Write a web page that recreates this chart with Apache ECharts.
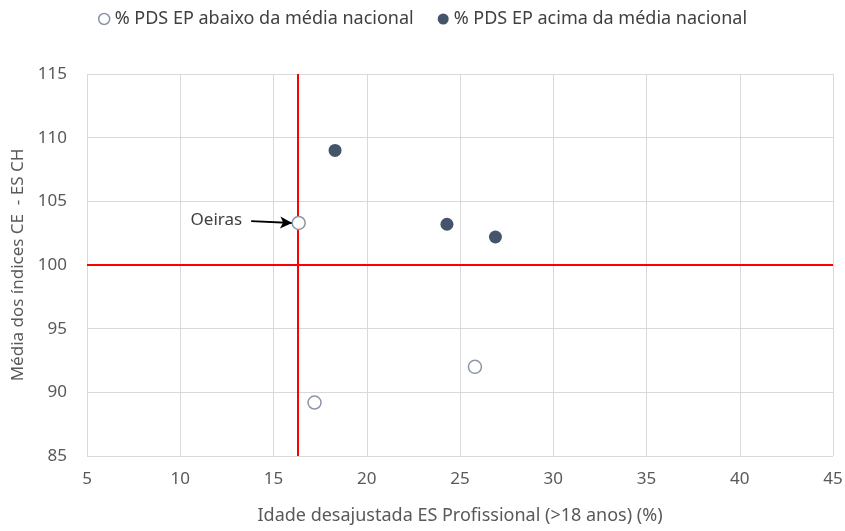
<!DOCTYPE html>
<html lang="pt">
<head>
  <meta charset="UTF-8">
  <title>Média dos índices CE - ES CH</title>
  <script src="https://cdn.jsdelivr.net/npm/echarts@6/dist/echarts.min.js"></script>
  <style>
    html, body { margin: 0; padding: 0; background: #fff; }
  </style>
</head>
<body>
<div id="main" style="width: 845px;height:531px;"></div>
<script>
  // dados
  var abaixoX = [16.35, 17.2, 25.8];
  var abaixoY = [103.3, 89.2, 92.0];
  var acimaX = [18.3, 24.3, 26.9];
  var acimaY = [109.0, 103.2, 102.2];
  var mediaX = 16.3;   // linha vertical
  var mediaY = 100;    // linha horizontal
  var nomeSeries = ['% PDS EP abaixo da média nacional', '% PDS EP acima da média nacional'];
  var oeiras = { nome: 'Oeiras', de: [13.8, 103.45], ate: [16.0, 103.3] };

  var fonte = 'Noto Sans';
  var cinza = '#595959';

  function pares(xs, ys) {
    return xs.map(function (x, i) { return [x, ys[i]]; });
  }

  var myChart = echarts.init(document.getElementById('main'));
  myChart.setOption({
    backgroundColor: '#fff',
    animation: false,
    legend: {
      top: 5,
      left: 'center',
      itemGap: 24,
      itemWidth: 11,
      itemHeight: 11,
      textStyle: { color: '#404040', fontSize: 18, fontFamily: fonte },
      data: [
        { name: nomeSeries[0], icon: 'circle', itemStyle: { color: '#fff', borderColor: '#8c96a8', borderWidth: 1.5 } },
        { name: nomeSeries[1], icon: 'circle', itemStyle: { color: '#44546a' } }
      ]
    },
    grid: { left: 87, right: 12, top: 74, bottom: 75, outerBoundsMode: 'none' },
    xAxis: {
      type: 'value',
      min: 5, max: 45, interval: 5,
      name: 'Idade desajustada ES Profissional (>18 anos) (%)',
      nameLocation: 'middle',
      nameGap: 51,
      nameTextStyle: { color: cinza, fontSize: 18, fontFamily: fonte },
      axisLine: { show: false },
      axisTick: { show: false },
      axisLabel: { color: cinza, fontSize: 17, fontFamily: fonte, margin: 15 },
      splitLine: { lineStyle: { color: '#d9d9d9', width: 1 } }
    },
    yAxis: {
      type: 'value',
      min: 85, max: 115, interval: 5,
      name: 'Média dos índices CE  - ES CH',
      nameLocation: 'middle',
      nameGap: 58,
      nameTextStyle: { color: cinza, fontSize: 17, fontFamily: fonte },
      axisLine: { show: false },
      axisTick: { show: false },
      axisLabel: { color: cinza, fontSize: 17, fontFamily: fonte, margin: 20 },
      splitLine: { lineStyle: { color: '#d9d9d9', width: 1 } }
    },
    series: [
      {
        name: nomeSeries[0],
        type: 'scatter',
        symbolSize: 13,
        z: 5,
        itemStyle: { color: '#fff', borderColor: '#8c96a8', borderWidth: 1.5, opacity: 1 },
        data: pares(abaixoX, abaixoY),
        markLine: {
          silent: true,
          symbol: ['none', 'none'],
          label: { show: false },
          lineStyle: { color: '#ff0000', width: 2, type: 'solid' },
          data: [{ xAxis: mediaX }, { yAxis: mediaY }]
        }
      },
      {
        name: nomeSeries[1],
        type: 'scatter',
        symbolSize: 13,
        z: 5,
        itemStyle: { color: '#44546a', opacity: 1 },
        data: pares(acimaX, acimaY),
        markLine: {
          silent: true,
          symbol: ['none', 'arrow'],
          symbolSize: [9, 12],
          lineStyle: { color: '#000', width: 1.8, type: 'solid' },
          label: {
            show: true,
            position: 'start',
            formatter: oeiras.nome,
            distance: 9,
            color: '#404040',
            fontSize: 17,
            fontFamily: fonte
          },
          data: [[{ coord: oeiras.de }, { coord: oeiras.ate }]]
        }
      }
    ]
  });
</script>
</body>
</html>
